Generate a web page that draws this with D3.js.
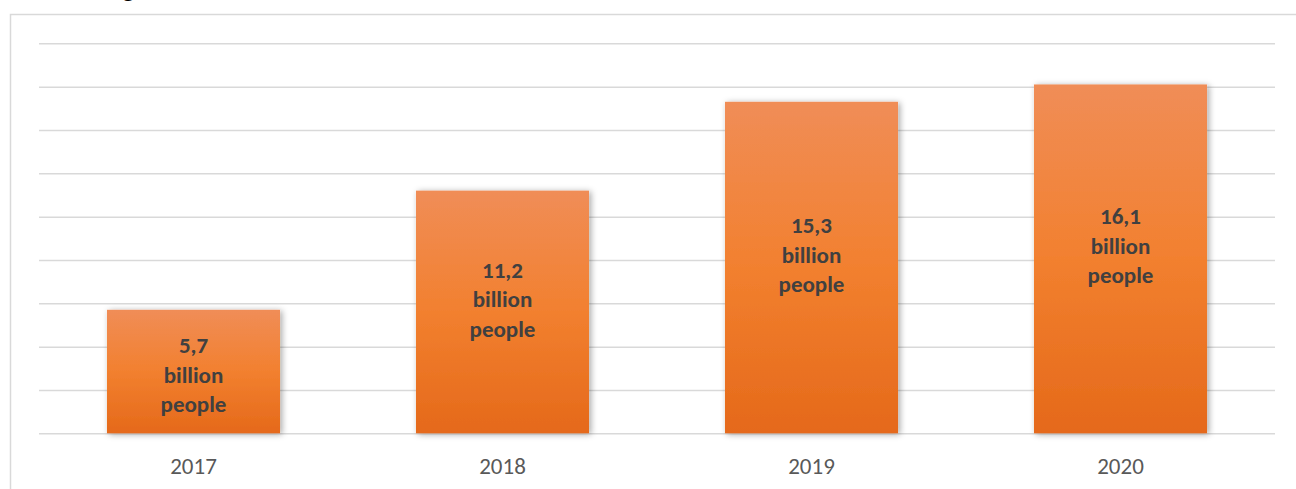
<!DOCTYPE html>
<html>
<head>
<meta charset="utf-8">
<script src="https://cdn.jsdelivr.net/npm/d3@7"></script>
<style>
  html, body { margin: 0; padding: 0; background: #ffffff; overflow: hidden; }
  svg { display: block; }
</style>
</head>
<body>
<svg id="chart" width="1296" height="489"></svg>
<script>
// Population figures by year (billions)
const years = ["2017", "2018", "2019", "2020"];
const values = [5.7, 11.2, 15.3, 16.1];
const valueLabels = ["5,7", "11,2", "15,3", "16,1"];
const unitLines = ["billion", "people"];
const gridTicks = [0, 2, 4, 6, 8, 10, 12, 14, 16, 18];

const W = 1296, H = 489;
const plot = { left: 39, right: 1275, top: 43.3, bottom: 433.3 };

const svg = d3.select("#chart");
const defs = svg.append("defs");

const grad = defs.append("linearGradient")
  .attr("id", "barFill").attr("x1", 0).attr("y1", 0).attr("x2", 0).attr("y2", 1);
grad.append("stop").attr("offset", "0%").attr("stop-color", "#F08D57");
grad.append("stop").attr("offset", "50%").attr("stop-color", "#F2802F");
grad.append("stop").attr("offset", "100%").attr("stop-color", "#E5691A");

const shadow = defs.append("filter").attr("id", "barShadow")
  .attr("x", "-10%").attr("y", "-10%").attr("width", "130%").attr("height", "130%");
shadow.append("feDropShadow")
  .attr("dx", 2).attr("dy", 1).attr("stdDeviation", 3)
  .attr("flood-color", "#000").attr("flood-opacity", 0.35);

// Heading line that runs above the frame
svg.append("text")
  .attr("x", 122).attr("y", -4)
  .attr("font-family", "Carlito, Lato, sans-serif")
  .attr("font-size", 28).attr("fill", "#000")
  .text("g");

// Chart frame
svg.append("rect")
  .attr("x", 10.5).attr("y", 14.5)
  .attr("width", W + 20).attr("height", H + 20)
  .attr("fill", "none").attr("stroke", "#D9D9D9").attr("stroke-width", 1.5);

const x = d3.scaleBand()
  .domain(years)
  .range([plot.left, plot.right])
  .paddingInner(0.44).paddingOuter(0.22);

const y = d3.scaleLinear()
  .domain([0, 18])
  .range([plot.bottom, plot.top]);

// Horizontal gridlines
const grid = d3.axisLeft(y)
  .tickValues(gridTicks)
  .tickSize(-(plot.right - plot.left))
  .tickFormat("");
svg.append("g")
  .attr("transform", `translate(${plot.left},0)`)
  .call(grid)
  .call(g => g.select(".domain").remove())
  .call(g => g.selectAll(".tick line")
    .attr("stroke", "#D9D9D9").attr("stroke-width", 1.5));

// Bars
svg.append("g").selectAll("rect")
  .data(values)
  .join("rect")
  .attr("x", (d, i) => x(years[i]))
  .attr("y", d => y(d))
  .attr("width", x.bandwidth())
  .attr("height", d => y(0) - y(d))
  .attr("fill", "url(#barFill)")
  .attr("filter", "url(#barShadow)");

// Category axis
const xAxis = d3.axisBottom(x).tickSize(0).tickPadding(0);
svg.append("g")
  .attr("transform", `translate(0,${plot.bottom})`)
  .call(xAxis)
  .call(g => g.select(".domain").remove())
  .call(g => g.selectAll(".tick text")
    .attr("y", 33).attr("dy", "0.35em")
    .attr("font-family", "Carlito, Lato, sans-serif")
    .attr("font-size", 23)
    .attr("fill", "#595959"));

// Value labels inside bars
const lineGap = 29.5;
const labels = svg.append("g").selectAll("text")
  .data(values)
  .join("text")
  .attr("text-anchor", "middle")
  .attr("font-family", "Carlito, Lato, sans-serif")
  .attr("font-weight", "bold")
  .attr("font-size", 23)
  .attr("fill", "#404040");

labels.each(function(d, i) {
  const cx = x(years[i]) + x.bandwidth() / 2;
  const top = y(d);
  const mid = Math.max((top + y(0)) / 2 - 13, top + 65);
  const lines = [valueLabels[i]].concat(unitLines);
  d3.select(this).selectAll("tspan")
    .data(lines)
    .join("tspan")
    .attr("x", cx)
    .attr("y", (t, k) => mid + (k - 1) * lineGap)
    .attr("dy", "0.35em")
    .text(t => t);
});
</script>
</body>
</html>
